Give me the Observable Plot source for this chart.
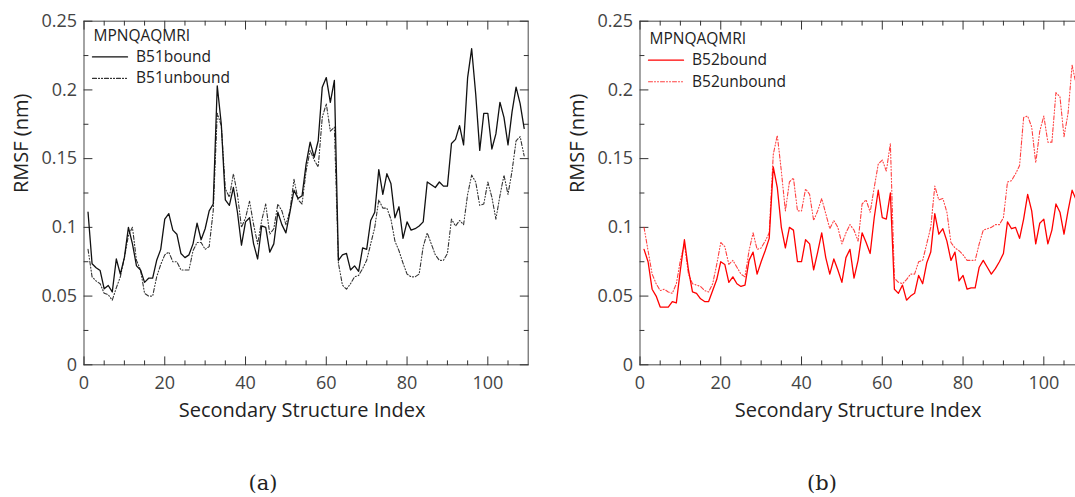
<!DOCTYPE html>
<html><head><meta charset="utf-8">
<script src="https://cdn.jsdelivr.net/npm/d3@7"></script>
<script src="https://cdn.jsdelivr.net/npm/@observablehq/plot@0.6"></script>
<style>
html,body{margin:0;padding:0;background:#fff;overflow:hidden}
#fig{position:relative;width:1075px;height:497px;overflow:hidden;background:#fff}
.panel{position:absolute;top:0}
.cap{position:absolute;top:470px;width:60px;text-align:center;font-family:"DejaVu Serif","Liberation Serif",serif;font-size:21px;color:#222;line-height:26px}
</style></head><body><div id="fig"></div>
<script>
// ---------- data ----------
const legendTitle = "MPNQAQMRI";
const xLabel = "Secondary Structure Index";
const yLabel = "RMSF (nm)";
const xMajorTicks = [0, 20, 40, 60, 80, 100];
const xMinorTicks = [5, 10, 15, 25, 30, 35, 45, 50, 55, 65, 70, 75, 85, 90, 95, 105];
const yMajorTicks = [0, 0.05, 0.1, 0.15, 0.2, 0.25];
const yMinorTicks = [0.025, 0.075, 0.125, 0.175, 0.225];
const captions = ["(a)", "(b)"];
const seriesNames = ["B51bound", "B51unbound", "B52bound", "B52unbound"];

const B51bound = [0.111,0.0735,0.0706,0.0686,0.0553,0.0577,0.053,0.077,0.066,0.078,
0.100,0.088,0.072,0.069,0.060,0.063,0.063,0.076,0.084,0.106,
0.110,0.098,0.095,0.081,0.078,0.080,0.088,0.103,0.091,0.099,
0.112,0.117,0.203,0.175,0.120,0.116,0.129,0.111,0.087,0.104,
0.107,0.088,0.077,0.101,0.100,0.082,0.088,0.111,0.102,0.096,
0.111,0.127,0.121,0.123,0.146,0.162,0.151,0.163,0.202,0.209,
0.191,0.207,0.076,0.080,0.081,0.069,0.072,0.068,0.085,0.084,
0.105,0.111,0.142,0.124,0.139,0.132,0.107,0.115,0.092,0.104,
0.098,0.099,0.101,0.104,0.133,0.131,0.129,0.133,0.130,0.130,
0.161,0.164,0.174,0.160,0.209,0.230,0.197,0.156,0.183,0.183,
0.157,0.168,0.191,0.180,0.160,0.184,0.202,0.190,0.172];

const B51unbound = [0.084,0.064,0.061,0.059,0.052,0.051,0.047,0.056,0.064,0.078,
0.094,0.100,0.076,0.069,0.052,0.050,0.050,0.064,0.073,0.080,
0.082,0.075,0.075,0.069,0.069,0.069,0.083,0.089,0.089,0.084,
0.086,0.112,0.183,0.174,0.128,0.122,0.139,0.124,0.100,0.107,
0.119,0.102,0.088,0.105,0.117,0.095,0.099,0.117,0.112,0.102,
0.112,0.135,0.120,0.117,0.141,0.156,0.149,0.144,0.180,0.190,
0.170,0.173,0.074,0.058,0.055,0.059,0.064,0.065,0.070,0.076,
0.088,0.100,0.120,0.114,0.114,0.106,0.090,0.083,0.074,0.066,
0.064,0.064,0.066,0.086,0.096,0.088,0.080,0.076,0.076,0.081,
0.106,0.101,0.105,0.102,0.124,0.138,0.133,0.116,0.117,0.133,
0.122,0.106,0.123,0.138,0.124,0.141,0.163,0.166,0.152];

const B52bound = [0.084,0.075,0.055,0.050,0.042,0.042,0.042,0.046,0.045,0.069,
0.091,0.069,0.053,0.052,0.048,0.046,0.046,0.054,0.062,0.075,
0.073,0.060,0.064,0.059,0.057,0.058,0.076,0.082,0.066,0.075,
0.083,0.092,0.144,0.129,0.100,0.085,0.100,0.098,0.075,0.075,
0.091,0.088,0.069,0.082,0.096,0.078,0.066,0.077,0.069,0.060,
0.078,0.084,0.063,0.076,0.096,0.089,0.081,0.107,0.127,0.107,
0.106,0.125,0.055,0.052,0.058,0.047,0.050,0.052,0.065,0.059,
0.074,0.082,0.110,0.095,0.099,0.090,0.076,0.082,0.061,0.065,
0.055,0.056,0.056,0.071,0.076,0.071,0.066,0.070,0.075,0.081,
0.104,0.099,0.100,0.092,0.106,0.124,0.112,0.088,0.103,0.106,
0.088,0.098,0.117,0.111,0.095,0.112,0.127,0.120,0.115];

const B52unbound = [0.100,0.083,0.066,0.059,0.054,0.055,0.053,0.052,0.059,0.076,
0.088,0.066,0.059,0.058,0.057,0.054,0.053,0.059,0.073,0.089,
0.086,0.073,0.076,0.071,0.066,0.064,0.083,0.096,0.084,0.085,
0.090,0.096,0.153,0.167,0.141,0.112,0.133,0.136,0.112,0.112,
0.128,0.124,0.105,0.112,0.121,0.110,0.099,0.105,0.100,0.088,
0.096,0.102,0.098,0.090,0.117,0.120,0.111,0.129,0.146,0.149,
0.141,0.161,0.063,0.060,0.059,0.062,0.066,0.066,0.075,0.076,
0.088,0.100,0.130,0.120,0.121,0.111,0.089,0.085,0.083,0.080,
0.076,0.076,0.076,0.088,0.098,0.099,0.100,0.102,0.102,0.107,
0.133,0.134,0.139,0.145,0.180,0.181,0.173,0.147,0.170,0.181,
0.162,0.162,0.198,0.195,0.166,0.183,0.218,0.204,0.195];

// ---------- drawing ----------
const FONT = '"Open Sans", "DejaVu Sans", sans-serif';
const tickShape = {draw(ctx, l) { ctx.moveTo(0, 0); ctx.lineTo(0, -l); }};
const dashPattern = "4,2,1,2,1,2";

function toRows(values) { return values.map((v, k) => ({i: k + 1, v})); }

function frameTicks(color) {
  const m = [];
  const sides = [
    {list: [xMajorTicks, xMinorTicks], ch: "x", anchor: "bottom", rotate: 0},
    {list: [xMajorTicks, xMinorTicks], ch: "x", anchor: "top", rotate: 180},
    {list: [yMajorTicks, yMinorTicks], ch: "y", anchor: "left", rotate: 90},
    {list: [yMajorTicks, yMinorTicks], ch: "y", anchor: "right", rotate: -90}
  ];
  for (const s of sides) {
    s.list.forEach((arr, j) => {
      m.push(Plot.vector(arr, {[s.ch]: d => d, frameAnchor: s.anchor, rotate: s.rotate,
        length: j === 0 ? 8 : 4, anchor: "start", shape: tickShape, stroke: color, strokeWidth: 1}));
    });
  }
  return m;
}

function panel(cfg) {
  const rowsB = toRows(cfg.bound), rowsU = toRows(cfg.unbound);
  const L = cfg.legend;
  const T = {lineAnchor: "middle", textAnchor: "start", fontSize: 15.5, fill: "#222", frameAnchor: "top-left"};
  return Plot.plot({
    width: 540, height: 430,
    marginLeft: 83.5, marginRight: 12.3, marginTop: 20.7, marginBottom: 65.7,
    x: {domain: [0, 110]},
    y: {domain: [0, 0.25]},
    style: {fontFamily: FONT, background: "transparent", overflow: "visible"},
    marks: [
      Plot.frame({stroke: "#5a5a5a", strokeWidth: 1.1}),
      ...frameTicks("#333"),
      Plot.axisX({ticks: xMajorTicks, tickSize: 0, tickPadding: 11, fontSize: 18, fill: "#444", label: null}),
      Plot.axisY({ticks: yMajorTicks, tickSize: 0, tickPadding: 7, fontSize: 18, fill: "#444", label: null,
        tickFormat: d => String(+d.toFixed(3))}),
      Plot.text([xLabel], {text: d => d, frameAnchor: "bottom", lineAnchor: "middle", dy: 46, dx: -4, fontSize: 20, fill: "#222"}),
      Plot.text([yLabel], {text: d => d, frameAnchor: "left", lineAnchor: "middle", rotate: -90, dx: -62.5, fontSize: 20, fill: "#222"}),
      Plot.line(rowsU, {x: "i", y: "v", stroke: cfg.colorU, strokeWidth: 1.1, strokeDasharray: dashPattern, strokeOpacity: cfg.opU}),
      Plot.line(rowsB, {x: "i", y: "v", stroke: cfg.colorB, strokeWidth: 1.3}),
      // legend
      Plot.text([legendTitle], {...T, text: d => d, dx: 9.5, dy: L[0]}),
      Plot.vector([cfg.names[0]], {frameAnchor: "top-left", dx: 8.5, dy: L[1], length: 35, rotate: 90, anchor: "start", shape: tickShape, stroke: cfg.colorB, strokeWidth: 1.3}),
      Plot.text([cfg.names[0]], {...T, text: d => d, dx: 52, dy: L[1]}),
      Plot.vector([cfg.names[1]], {frameAnchor: "top-left", dx: 8.5, dy: L[2], length: 35, rotate: 90, anchor: "start", shape: tickShape, stroke: cfg.colorU, strokeWidth: 1.1, strokeDasharray: dashPattern, strokeOpacity: cfg.opU}),
      Plot.text([cfg.names[1]], {...T, text: d => d, dx: 52, dy: L[2]})
    ]
  });
}

const fig = document.getElementById("fig");
const a = panel({bound: B51bound, unbound: B51unbound, names: [seriesNames[0], seriesNames[1]],
  colorB: "#111", colorU: "#333", opU: 1, legend: [14.5, 35.7, 57.2]});
a.classList.add("panel"); a.style.left = "0px";
fig.appendChild(a);
const b = panel({bound: B52bound, unbound: B52unbound, names: [seriesNames[2], seriesNames[3]],
  colorB: "#ff0000", colorU: "#ff2020", opU: 0.85, legend: [17.5, 39, 60.5]});
b.classList.add("panel"); b.style.left = "555.8px";
fig.appendChild(b);

const capX = [263, 822];
captions.forEach((c, k) => {
  const d = document.createElement("div");
  d.className = "cap"; d.textContent = c; d.style.left = (capX[k] - 30) + "px";
  fig.appendChild(d);
});
</script></body></html>
